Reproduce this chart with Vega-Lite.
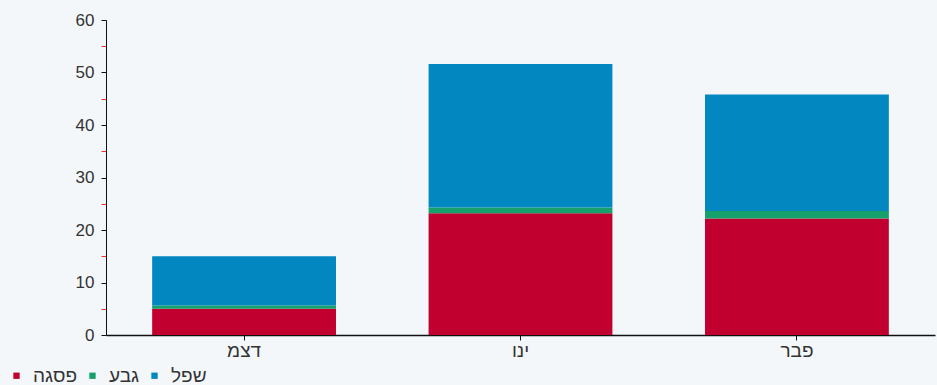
{
  "$schema": "https://vega.github.io/schema/vega-lite/v6.json",
  "width": 829,
  "height": 315,
  "autosize": {"type": "none"},
  "padding": {"left": 106, "top": 20, "right": 2, "bottom": 50},
  "background": "#f3f7fa",
  "config": {
    "view": {"stroke": null},
    "font": "Liberation Sans",
    "axis": {"labelFont": "Liberation Sans", "labelColor": "#333", "labelFontSize": 17, "domainColor": "#111", "tickColor": "#111", "grid": false, "title": null},
    "legend": {"labelFont": "Liberation Sans", "labelColor": "#333", "labelFontSize": 19}
  },
  "data": {
    "values": [
      {"month": "דצמ", "tariff": "פסגה", "value": 5.0},
      {"month": "דצמ", "tariff": "גבע", "value": 0.6},
      {"month": "דצמ", "tariff": "שפל", "value": 9.4},
      {"month": "ינו", "tariff": "פסגה", "value": 23.2},
      {"month": "ינו", "tariff": "גבע", "value": 1.1},
      {"month": "ינו", "tariff": "שפל", "value": 27.3},
      {"month": "פבר", "tariff": "פסגה", "value": 22.2},
      {"month": "פבר", "tariff": "גבע", "value": 1.4},
      {"month": "פבר", "tariff": "שפל", "value": 22.2}
    ]
  },
  "transform": [
    {"calculate": "indexof(['פסגה', 'גבע', 'שפל'], datum.tariff)", "as": "stackOrder"}
  ],
  "mark": {"type": "bar"},
  "encoding": {
    "x": {
      "field": "month", "type": "nominal", "sort": ["דצמ", "ינו", "פבר"],
      "scale": {"paddingInner": 0.335, "paddingOuter": 0.167},
      "axis": {"labelAngle": 0, "tickSize": 5, "labelPadding": 1, "domainWidth": 1.5, "labelFontSize": 19}
    },
    "y": {
      "field": "value", "type": "quantitative", "aggregate": "sum", "stack": "zero",
      "scale": {"domain": [0, 60], "nice": false},
      "axis": {
        "values": [0, 5, 10, 15, 20, 25, 30, 35, 40, 45, 50, 55, 60],
        "labelExpr": "datum.value % 10 === 0 ? datum.label : ''",
        "tickColor": {"condition": {"test": "datum.value % 10 !== 0", "value": "#e8322a"}, "value": "#111"},
        "tickSize": 5,
        "labelPadding": 7
      }
    },
    "color": {
      "field": "tariff", "type": "nominal",
      "scale": {"domain": ["פסגה", "גבע", "שפל"], "range": ["#c20030", "#16a06c", "#0287c0"]},
      "legend": {"title": null, "orient": "none", "direction": "horizontal", "legendX": -99, "legendY": 346, "symbolType": "square", "symbolSize": 40, "labelOffset": 7, "columnPadding": 5}
    },
    "order": {"field": "stackOrder", "type": "quantitative", "sort": "ascending"}
  }
}
